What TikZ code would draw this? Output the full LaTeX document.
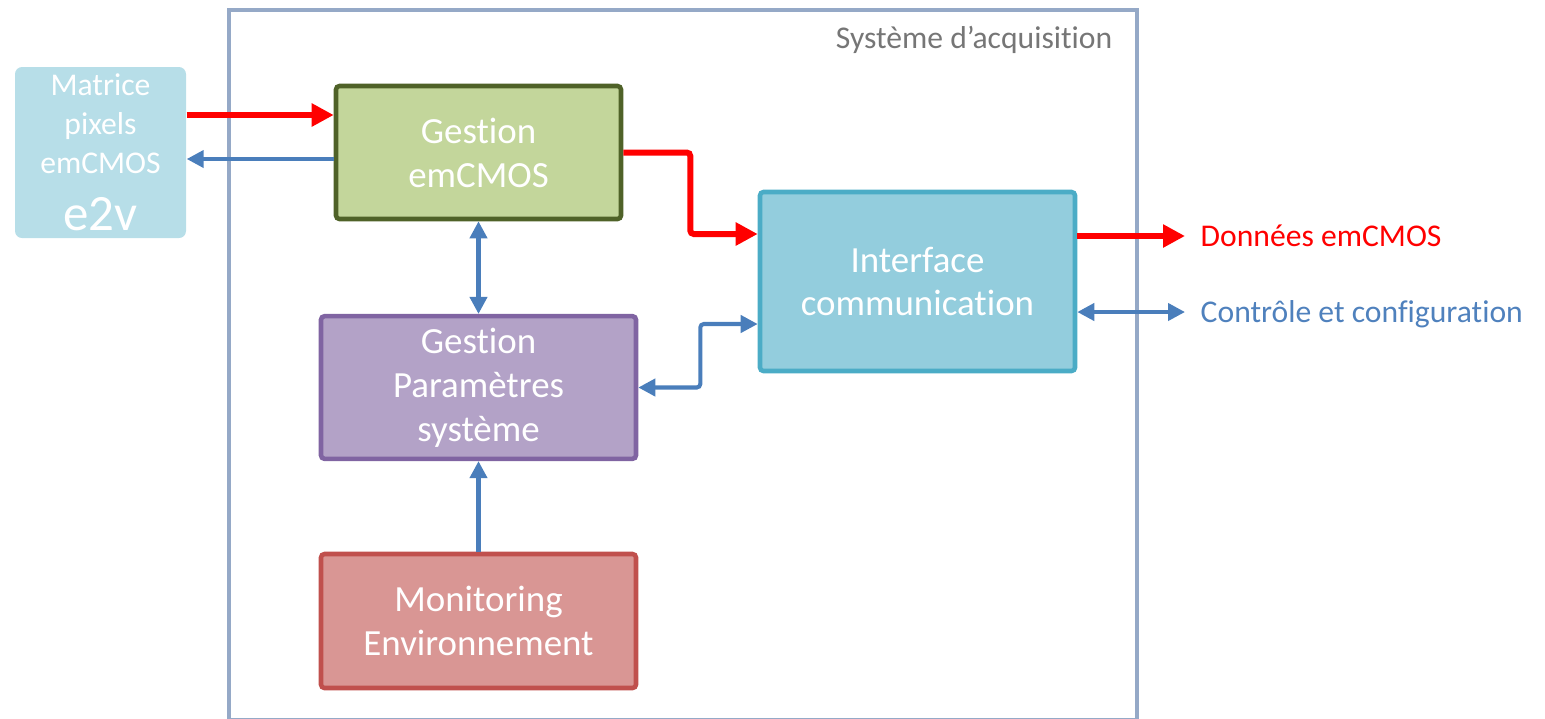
\documentclass[tikz,border=0pt]{standalone}
\usepackage{fontspec}
\setmainfont{Carlito}[Ligatures={NoCommon}, RawFeature={-liga;-calt;-clig}]
\usetikzlibrary{arrows.meta,calc}
\definecolor{framegray}{RGB}{149,169,199}
\definecolor{titlegray}{RGB}{118,118,118}
\definecolor{sensorblue}{RGB}{183,222,232}
\definecolor{gestfill}{RGB}{195,214,155}
\definecolor{gestdraw}{RGB}{79,98,40}
\definecolor{paramfill}{RGB}{179,162,199}
\definecolor{paramdraw}{RGB}{128,100,162}
\definecolor{monfill}{RGB}{217,150,148}
\definecolor{mondraw}{RGB}{192,80,77}
\definecolor{ifacefill}{RGB}{147,205,221}
\definecolor{ifacedraw}{RGB}{75,172,198}
\definecolor{ctrlblue}{RGB}{74,126,187}
\definecolor{labelblue}{RGB}{79,129,189}
\tikzset{
  block/.style = {draw, line width=1.3pt, rounded corners=1pt, text=white, align=center,
    font=\fontsize{10.5}{12.5}\selectfont, minimum width=3.15cm, minimum height=1.33cm},
  outlabel/.style = {anchor=west, inner xsep=0.15cm, text depth=0pt,
    font=\fontsize{9}{11}\selectfont},
  dataarrow/.style = {red, line width=1.7pt, -{Triangle[length=2.2mm,width=2.2mm]}},
  ctrlarrow/.style = {ctrlblue, line width=1.15pt, -{Triangle[length=1.7mm,width=1.7mm]}},
  ctrlboth/.style = {ctrlblue, line width=1.15pt,
    {Triangle[length=1.7mm,width=1.7mm]}-{Triangle[length=1.7mm,width=1.7mm]}},
}

\begin{document}
\begin{tikzpicture}
  \pgfmathsetmacro{\step}{0.62};
  \useasboundingbox (0,0) rectangle (15.45,-7.18);
  % acquisition frame
  \draw[framegray, line width=1.15pt] (2.29,-0.10) rectangle (11.37,-7.20);
  \node[anchor=east, inner sep=0, text=titlegray, font=\fontsize{9}{11}\selectfont] (title) at (11.13,-0.40) {Système d’acquisition};
  % sensor
  \node[fill=sensorblue, rounded corners=2pt, minimum width=1.71cm, minimum height=1.71cm,
    inner ysep=0pt, text=white, align=center, font=\fontsize{9}{11.1}\selectfont] (matrice) at (1.005,-1.525)
    {Matrice\\pixels\\emCMOS\\[5pt]{\fontsize{14.5}{15}\selectfont e2v}};
  % blocks
  \node[block, draw=gestdraw, fill=gestfill, minimum width=2.85cm] (gestion) at (4.785,-1.525) {Gestion\\emCMOS};
  \node[block, draw=paramdraw, fill=paramfill] (param) at (4.785,-3.875) {Gestion\\Paramètres\\système};
  \node[block, draw=mondraw, fill=monfill, minimum height=1.34cm] (monitor) at (4.785,-6.21) {Monitoring\\Environnement};
  \node[block, draw=ifacedraw, fill=ifacefill, minimum height=1.79cm] (iface) at (9.175,-2.815) {Interface\\communication};
  % sensor links
  \draw[dataarrow] ([yshift=0.375cm]matrice.east) -- ([yshift=0.375cm]gestion.west);
  \draw[ctrlarrow] ([yshift=-0.065cm]gestion.west) -- ([yshift=-0.065cm]matrice.east);
  % internal links
  \draw[dataarrow, rounded corners=1pt] (gestion.east) -- ++(0.67,0) |- ([yshift=0.475cm]iface.west);
  \draw[ctrlboth] (gestion.south) -- (param.north);
  \draw[ctrlboth, rounded corners=1pt] (param.east) -- ++(\step,0) |- ([yshift=-0.425cm]iface.west);
  \draw[ctrlarrow] (monitor.north) -- (param.south);
  % outputs
  \node[outlabel, text=red] (donnees) at (11.85,-2.36) {Données emCMOS};
  \node[outlabel, text=labelblue] (controle) at (11.85,-3.12) {Contrôle et configuration};
  \draw[dataarrow] (iface.east |- donnees) -- (donnees.west);
  \draw[ctrlboth] (iface.east |- controle) -- (controle.west);
\end{tikzpicture}
\end{document}
